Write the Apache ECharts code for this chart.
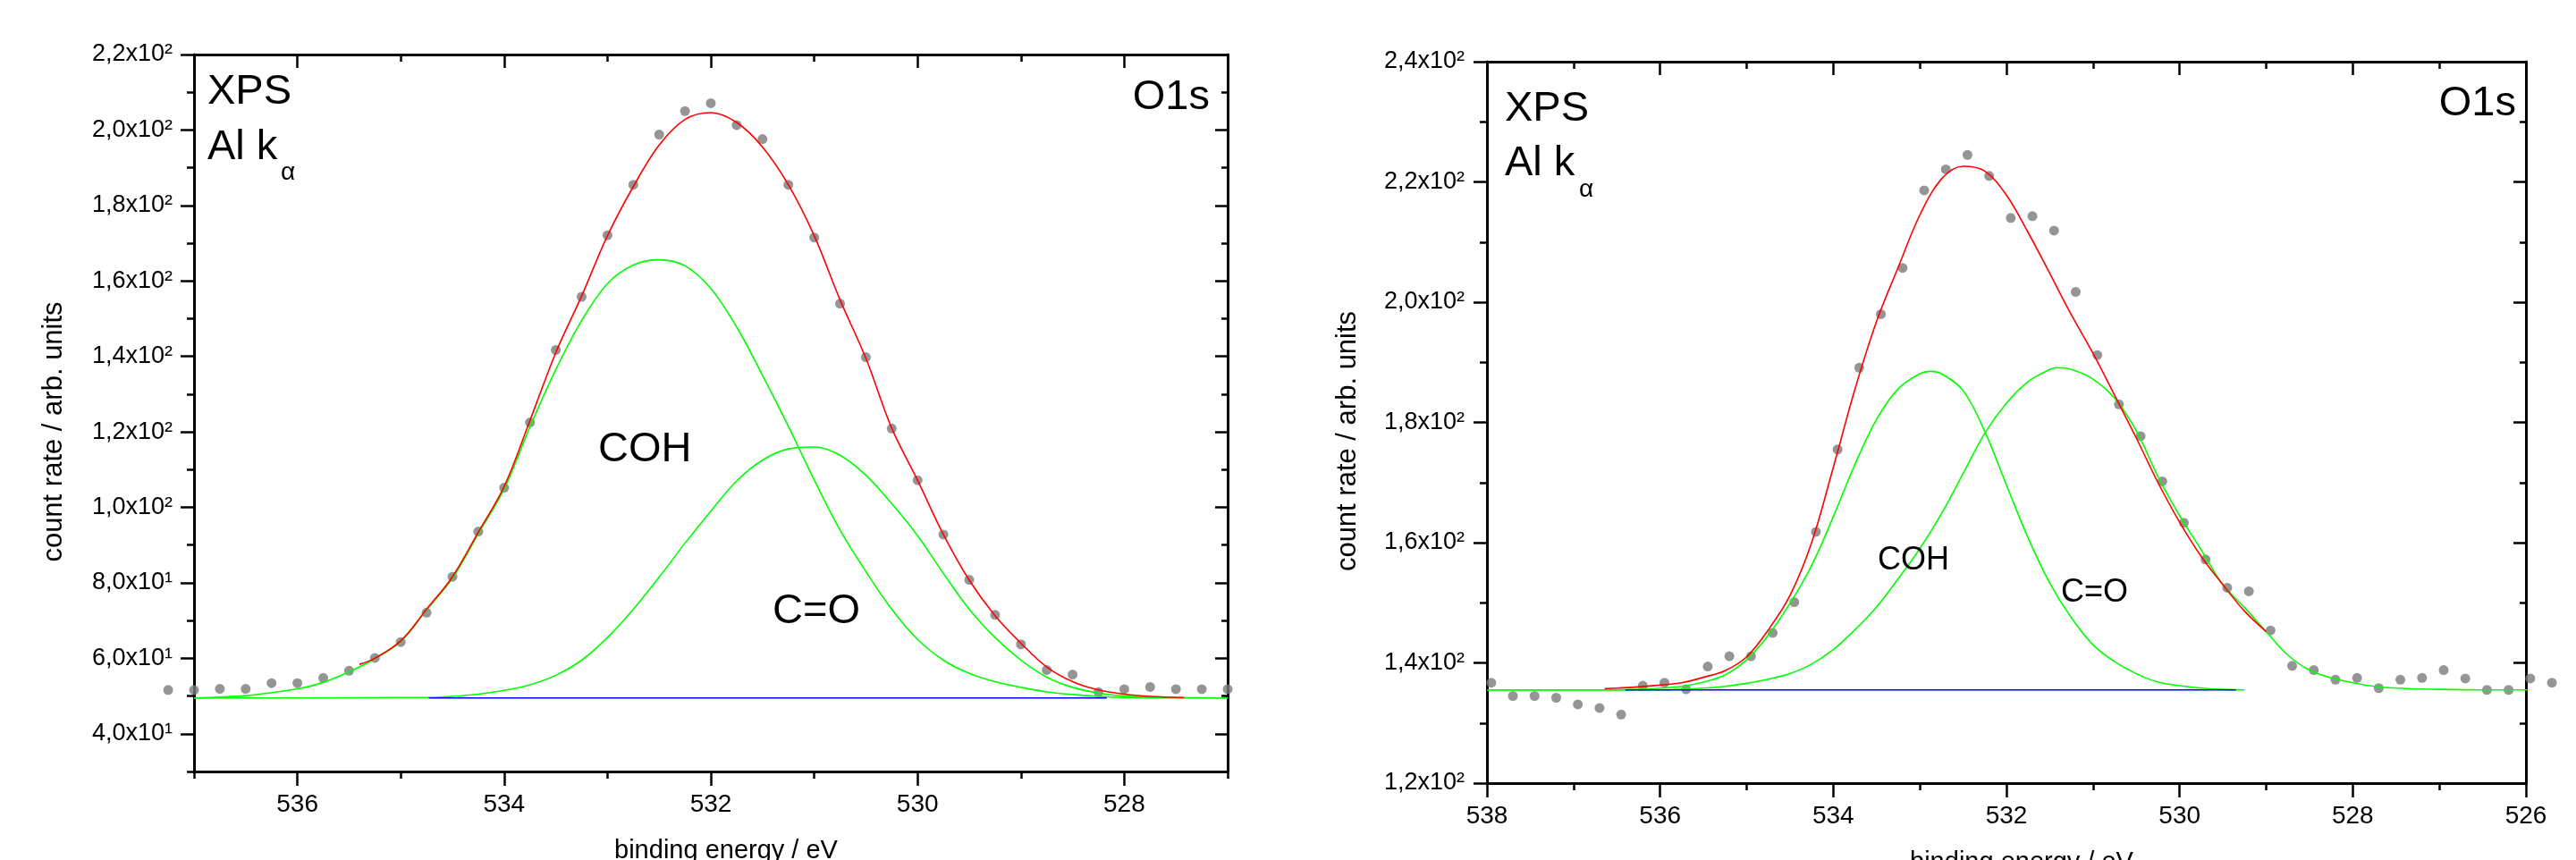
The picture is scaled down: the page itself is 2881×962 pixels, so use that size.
<!DOCTYPE html>
<html>
<head>
<meta charset="utf-8">
<script src="https://cdn.jsdelivr.net/npm/echarts@6/dist/echarts.min.js"></script>
<style>
html,body{margin:0;padding:0;background:#fff;}
#c{width:2881px;height:962px;}
</style>
</head>
<body>
<div id="c"></div>
<script>
// ---------------- LEFT PANEL DATA ----------------
const leftEnergy = [537.25, 537.0, 536.75, 536.5, 536.25, 536.0, 535.75, 535.5, 535.25, 535.0,
  534.75, 534.5, 534.25, 534.0, 533.75, 533.5, 533.25, 533.0, 532.75, 532.5, 532.25, 532.0,
  531.75, 531.5, 531.25, 531.0, 530.75, 530.5, 530.25, 530.0, 529.75, 529.5, 529.25, 529.0,
  528.75, 528.5, 528.25, 528.0, 527.75, 527.5, 527.25, 527.0];
const leftCounts = [51.6, 51.6, 51.9, 51.9, 53.4, 53.4, 54.8, 56.7, 60.1, 64.3,
  72.1, 81.6, 93.6, 105.2, 122.5, 141.7, 155.8, 172.1, 185.5, 198.8, 205.0, 207.1,
  201.3, 197.6, 185.5, 171.5, 154.0, 139.8, 120.9, 107.2, 92.8, 80.8, 71.5, 63.7,
  56.9, 55.7, 51.0, 51.8, 52.4, 51.8, 51.8, 51.8];

const leftCohE = [537.0, 536.75, 536.5, 536.25, 536.0, 535.75, 535.5, 535.25, 535.0, 534.75, 534.5, 534.25, 534.0,
  533.75, 533.5, 533.25, 533.0, 532.75, 532.5, 532.25, 532.0, 531.75, 531.5, 531.25, 531.0,
  530.75, 530.5, 530.25, 530.0, 529.75, 529.5, 529.25, 529.0, 528.75, 528.5, 528.25, 528.0, 527.75, 527.5, 527.0];
const leftCohV = [49.5, 49.7, 50.1, 50.9, 51.9, 53.6, 56.4, 59.9, 64.5, 72.8, 81.2, 93.0, 104.8,
  121.3, 136.5, 149.5, 159.3, 164.2, 165.6, 164.0, 158.0, 147.8, 135.0, 121.5, 107.3,
  94.0, 83.0, 73.0, 65.0, 59.5, 56.0, 53.8, 52.3, 51.1, 50.4, 49.9, 49.6, 49.5, 49.5, 49.5];

const leftCoE = [537.0, 536.0, 535.0, 534.75, 534.5, 534.25, 534.0, 533.75, 533.5, 533.25, 533.0,
  532.75, 532.5, 532.25, 532.0, 531.75, 531.5, 531.25, 531.0, 530.75, 530.5, 530.25, 530.0,
  529.75, 529.5, 529.25, 529.0, 528.75, 528.5, 528.25, 528.0, 527.75, 527.5, 527.0];
const leftCoV = [49.5, 49.5, 49.6, 49.6, 49.9, 50.5, 51.5, 53.0, 55.5, 59.5, 65.5,
  73.0, 81.5, 90.5, 99.0, 107.0, 112.5, 115.5, 116.0, 113.8, 108.5, 101.0, 92.5,
  82.5, 73.0, 65.5, 59.5, 55.0, 52.3, 50.8, 50.0, 49.7, 49.6, 49.5];

const leftFitE = [535.4, 535.25, 535.0, 534.75, 534.5, 534.25, 534.0, 533.75, 533.5, 533.25, 533.0,
  532.75, 532.5, 532.25, 532.0, 531.75, 531.5, 531.25, 531.0, 530.75, 530.5, 530.25, 530.0,
  529.75, 529.5, 529.25, 529.0, 528.75, 528.5, 528.25, 528.0, 527.75, 527.42];
const leftFitV = [58.4, 60.0, 64.6, 73.0, 81.6, 93.4, 105.5, 123.0, 141.0, 156.0, 172.0,
  185.0, 196.0, 202.8, 204.6, 202.0, 195.5, 185.5, 172.0, 155.0, 139.5, 121.0, 107.2,
  92.8, 80.7, 71.3, 64.0, 57.7, 53.8, 51.6, 50.5, 49.9, 49.6];

const leftBaseE = [534.73, 528.17];
const leftBaseV = [49.5, 49.5];

const leftXMajor = [528, 530, 532, 534, 536];
const leftXMinor = [527, 529, 531, 533, 535, 537];
const leftYMajor = [40, 60, 80, 100, 120, 140, 160, 180, 200, 220];
const leftYLabels = ['4,0x10¹', '6,0x10¹', '8,0x10¹', '1,0x10²', '1,2x10²', '1,4x10²', '1,6x10²', '1,8x10²', '2,0x10²', '2,2x10²'];
const leftYMinor = [30, 50, 70, 90, 110, 130, 150, 170, 190, 210];

// ---------------- RIGHT PANEL DATA ----------------
const rightEnergy = [537.95, 537.70, 537.45, 537.20, 536.95, 536.70, 536.45, 536.20, 535.95, 535.70,
  535.45, 535.20, 534.95, 534.70, 534.45, 534.20, 533.95, 533.70, 533.45, 533.20,
  532.95, 532.70, 532.45, 532.20, 531.95, 531.70, 531.45, 531.20, 530.95, 530.70,
  530.45, 530.20, 529.95, 529.70, 529.45, 529.20, 528.95, 528.70, 528.45, 528.20,
  527.95, 527.70, 527.45, 527.20, 526.95, 526.70, 526.45, 526.20, 525.95, 525.70];
const rightCounts = [136.7, 134.5, 134.5, 134.2, 133.1, 132.5, 131.4, 136.2, 136.7, 135.6,
  139.4, 141.1, 141.1, 145.0, 150.1, 161.8, 175.5, 189.1, 198.0, 205.7,
  218.6, 222.1, 224.5, 221.0, 214.0, 214.3, 211.9, 201.7, 191.2, 183.0,
  177.7, 170.2, 163.3, 157.2, 152.5, 151.9, 145.4, 139.5, 138.8, 137.2,
  137.5, 135.8, 137.2, 137.5, 138.8, 137.4, 135.5, 135.5, 137.4, 136.7];

const rightCohE = [538.0, 537.0, 536.5, 536.25, 536.0, 535.75, 535.5, 535.25, 535.0, 534.75, 534.5, 534.25, 534.0,
  533.75, 533.5, 533.25, 533.0, 532.88, 532.75, 532.5, 532.25, 532.0, 531.75, 531.5, 531.25, 531.0,
  530.75, 530.5, 530.25, 530.0, 529.75, 529.5, 529.25];
const rightCohV = [135.5, 135.5, 135.5, 135.6, 135.8, 136.1, 136.8, 138.0, 140.5, 144.6, 149.9, 156.2, 164.3,
  173.0, 180.5, 185.6, 188.1, 188.5, 188.1, 185.3, 178.5, 169.6, 160.8, 153.3, 147.5, 143.0,
  140.2, 138.2, 136.8, 136.2, 135.8, 135.6, 135.5];

const rightCoE = [538.0, 536.0, 535.5, 535.25, 535.0, 534.75, 534.5, 534.25, 534.0,
  533.75, 533.5, 533.25, 533.0, 532.75, 532.5, 532.25, 532.0, 531.75, 531.5, 531.41, 531.25, 531.0,
  530.75, 530.5, 530.25, 530.0, 529.75, 529.5, 529.25, 529.0, 528.75, 528.5, 528.25, 528.0,
  527.75, 527.5, 527.0, 526.5, 525.92];
const rightCoV = [135.5, 135.5, 135.8, 136.1, 136.6, 137.3, 138.2, 139.8, 142.2,
  145.5, 149.3, 154.0, 159.0, 164.8, 171.5, 178.2, 183.2, 186.8, 188.8, 189.1, 188.8, 187.2,
  184.0, 178.6, 171.0, 164.5, 158.8, 153.0, 149.2, 145.2, 141.3, 138.8, 137.5, 136.7,
  136.1, 135.8, 135.6, 135.5, 135.5];

const rightFitE = [536.64, 536.5, 536.25, 536.0, 535.75, 535.5, 535.25, 535.0, 534.75, 534.5, 534.25, 534.0,
  533.75, 533.5, 533.25, 533.0, 532.75, 532.5, 532.25, 532.0, 531.75, 531.5, 531.25, 531.0,
  530.75, 530.5, 530.25, 530.0, 529.75, 529.5, 529.25, 529.0];
const rightFitV = [135.7, 135.8, 136.0, 136.3, 136.7, 137.6, 138.7, 141.0, 145.5, 151.2, 160.0, 172.5,
  185.5, 196.8, 205.8, 214.5, 220.5, 222.6, 221.8, 217.8, 211.6, 204.8, 197.9, 191.5,
  184.5, 177.4, 170.0, 163.4, 157.7, 153.0, 148.6, 145.2];

const rightBaseE = [536.40, 529.35];
const rightBaseV = [135.5, 135.5];

const rightXMajor = [526, 528, 530, 532, 534, 536, 538];
const rightXMinor = [527, 529, 531, 533, 535, 537];
const rightYMajor = [120, 140, 160, 180, 200, 220, 240];
const rightYLabels = ['1,2x10²', '1,4x10²', '1,6x10²', '1,8x10²', '2,0x10²', '2,2x10²', '2,4x10²'];
const rightYMinor = [130, 150, 170, 190, 210, 230];

// ---------------- BUILD ----------------
const FONT = '"Liberation Sans", Arial, sans-serif';
const pairs = (xs, ys) => xs.map((x, i) => [x, ys[i]]);

function xAxesFor(g, min, max, major, minor) {
  const base = {gridIndex: g, type: 'value', min: min, max: max, inverse: true, splitLine: {show: false}};
  const line = {show: true, onZero: false, lineStyle: {color: '#000', width: 3}};
  const tickStyle = {color: '#000', width: 2.5};
  return [
    Object.assign({}, base, {
      position: 'bottom', axisLine: line,
      axisTick: {show: true, customValues: major, length: 16, lineStyle: tickStyle},
      axisLabel: {show: true, customValues: major, margin: 23, fontSize: 28, color: '#000', fontFamily: FONT},
      name: 'binding energy / eV', nameLocation: 'middle', nameGap: 74,
      nameTextStyle: {fontSize: 29, color: '#000', fontFamily: FONT, padding: [0, 0, 0, 34]}
    }),
    Object.assign({}, base, {
      position: 'bottom', axisLine: {show: false, onZero: false},
      axisTick: {show: true, customValues: minor, length: 8, lineStyle: tickStyle},
      axisLabel: {show: false}
    }),
    Object.assign({}, base, {
      position: 'top', axisLine: line,
      axisTick: {show: true, inside: true, customValues: major, length: 15, lineStyle: tickStyle},
      axisLabel: {show: false}
    }),
    Object.assign({}, base, {
      position: 'top', axisLine: {show: false, onZero: false},
      axisTick: {show: true, inside: true, customValues: minor, length: 8, lineStyle: tickStyle},
      axisLabel: {show: false}
    })
  ];
}

function yAxesFor(g, min, max, major, labels, minor, nameGap, labelMargin) {
  const base = {gridIndex: g, type: 'value', min: min, max: max, splitLine: {show: false}};
  const line = {show: true, onZero: false, lineStyle: {color: '#000', width: 3}};
  const tickStyle = {color: '#000', width: 2.5};
  return [
    Object.assign({}, base, {
      position: 'left', axisLine: line,
      axisTick: {show: true, customValues: major, length: 15, lineStyle: tickStyle},
      axisLabel: {show: true, customValues: major, margin: labelMargin, fontSize: 27, color: '#000', fontFamily: FONT,
        formatter: function (v) { const i = major.indexOf(Math.round(v)); return i >= 0 ? labels[i] : ''; }},
      name: 'count rate / arb. units', nameLocation: 'middle', nameGap: nameGap,
      nameTextStyle: {fontSize: 31, color: '#000', fontFamily: FONT, padding: [0, 42, 0, 0]}
    }),
    Object.assign({}, base, {
      position: 'left', axisLine: {show: false, onZero: false},
      axisTick: {show: true, customValues: minor, length: 8, lineStyle: tickStyle},
      axisLabel: {show: false}
    }),
    Object.assign({}, base, {
      position: 'right', axisLine: line,
      axisTick: {show: true, inside: true, customValues: major, length: 14, lineStyle: tickStyle},
      axisLabel: {show: false}
    }),
    Object.assign({}, base, {
      position: 'right', axisLine: {show: false, onZero: false},
      axisTick: {show: true, inside: true, customValues: minor, length: 7, lineStyle: tickStyle},
      axisLabel: {show: false}
    })
  ];
}

function seriesFor(g, sE, sV, cohE, cohV, coE, coV, baseE, baseV, fitE, fitV) {
  const ax = {xAxisIndex: 4 * g, yAxisIndex: 4 * g};
  const ln = (name, data, color, z, width) => Object.assign({
    type: 'line', name: name, data: data, symbol: 'none', smooth: 0.35, clip: false, z: z,
    lineStyle: {color: color, width: width}, itemStyle: {color: color}, silent: true
  }, ax);
  return [
    Object.assign({type: 'scatter', name: 'data', data: pairs(sE, sV), symbol: 'circle', symbolSize: 11,
      itemStyle: {color: '#7a7a7a'}, clip: false, z: 2, silent: true}, ax),
    ln('COH', pairs(cohE, cohV), '#00ff00', 3, 1.6),
    ln('C=O', pairs(coE, coV), '#00ff00', 3, 1.6),
    ln('baseline', pairs(baseE, baseV), '#0000ff', 4, 1.6),
    ln('fit', pairs(fitE, fitV), '#ff0000', 5, 1.6)
  ];
}

function txt(x, y, text, size, align) {
  return {type: 'text', x: x, y: y, z: 100, silent: true,
    style: {text: text, font: size + 'px ' + FONT, fill: '#000',
      align: align || 'left', verticalAlign: 'middle',
      textAlign: align || 'left', textVerticalAlign: 'middle'}};
}

const option = {
  animation: false,
  backgroundColor: '#ffffff',
  grid: [
    {left: 217, top: 61, width: 1156, height: 802, containLabel: false, outerBoundsMode: 'none'},
    {left: 1663, top: 69, width: 1162, height: 807, containLabel: false, outerBoundsMode: 'none'}
  ],
  xAxis: [].concat(
    xAxesFor(0, 527, 537, leftXMajor, leftXMinor),
    xAxesFor(1, 526, 538, rightXMajor, rightXMinor)
  ),
  yAxis: [].concat(
    yAxesFor(0, 30, 220, leftYMajor, leftYLabels, leftYMinor, 141, 24),
    yAxesFor(1, 120, 240, rightYMajor, rightYLabels, rightYMinor, 140, 25)
  ),
  series: [].concat(
    seriesFor(0, leftEnergy, leftCounts, leftCohE, leftCohV, leftCoE, leftCoV, leftBaseE, leftBaseV, leftFitE, leftFitV),
    seriesFor(1, rightEnergy, rightCounts, rightCohE, rightCohV, rightCoE, rightCoV, rightBaseE, rightBaseV, rightFitE, rightFitV)
  ),
  graphic: [
    txt(232, 103.5, 'XPS', 47),
    txt(232, 165.5, 'Al k', 47),
    txt(314, 193, 'α', 28),
    txt(1353, 109, 'O1s', 47, 'right'),
    txt(669, 503.5, 'COH', 47),
    txt(864, 684, 'C=O', 47),
    txt(1683, 122.5, 'XPS', 47),
    txt(1683, 183.5, 'Al k', 47),
    txt(1766, 212, 'α', 28),
    txt(2814, 116.5, 'O1s', 47, 'right'),
    txt(2100, 627.5, 'COH', 36),
    txt(2305, 663, 'C=O', 36)
  ]
};

const chart = echarts.init(document.getElementById('c'), null, {renderer: 'canvas', width: 2881, height: 962});
chart.setOption(option);
</script>
</body>
</html>
